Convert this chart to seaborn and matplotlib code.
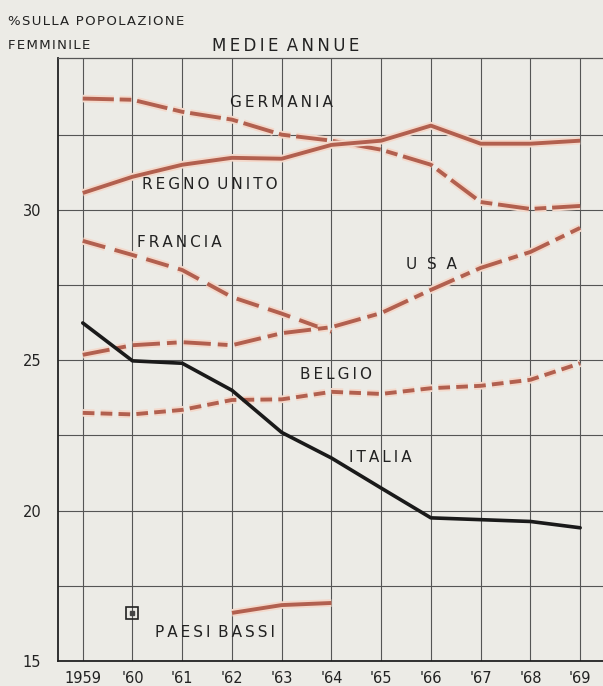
import matplotlib
matplotlib.use("Agg")
import matplotlib.pyplot as plt
import matplotlib.patheffects as pe
import seaborn as sns
import pandas as pd

years = [1959, 1960, 1961, 1962, 1963, 1964, 1965, 1966, 1967, 1968, 1969]
germania = [33.7, 33.66, 33.26, 33.0, 32.5, 32.3, 32.0, 31.5, 30.26, 30.03, 30.13]
regno_unito = [30.56, 31.1, 31.5, 31.73, 31.7, 32.16, 32.3, 32.8, 32.2, 32.2, 32.3]
francia_years = [1959, 1960, 1961, 1962, 1963, 1964]
francia = [28.97, 28.5, 28.0, 27.1, 26.55, 25.95]
usa = [25.18, 25.5, 25.6, 25.5, 25.9, 26.1, 26.57, 27.34, 28.07, 28.6, 29.4]
belgio = [23.25, 23.2, 23.35, 23.68, 23.7, 23.95, 23.88, 24.07, 24.15, 24.35, 24.9]
italia = [26.24, 24.98, 24.9, 24.0, 22.6, 21.75, 20.75, 19.76, 19.7, 19.64, 19.43]
paesi_bassi_years = [1962, 1963, 1964]
paesi_bassi = [16.6, 16.86, 16.93]
xtick_labels = ["1959", "'60", "'61", "'62", "'63", "'64", "'65", "'66", "'67", "'68", "'69"]
ytick_values = [15, 20, 25, 30]

sns.set_style("white")
plt.rcParams["font.family"] = ["DejaVu Sans"]


def spaced(s, gap="\u2009"):
    return gap.join(list(s)).replace(gap + " " + gap, "\u2002")


bg = "#ecebe6"
red = "#b2604f"
halo = [pe.withStroke(linewidth=5.5, foreground="#f4d9cb")]

fig = plt.figure(figsize=(6.03, 6.86), dpi=100, facecolor=bg)
ax = fig.add_axes([0.096, 0.0364, 0.904, 0.8791])
ax.set_facecolor(bg)

series = [
    (years, germania, red, (8, 1.5, 3, 1.5)),
    (years, regno_unito, red, None),
    (francia_years, francia, red, (6, 2.5)),
    (years, usa, red, (7, 1.8, 2.5, 1.8)),
    (years, belgio, red, (3, 1.6)),
    (paesi_bassi_years, paesi_bassi, red, None),
]
for xs, ys, col, dash in series:
    df = pd.DataFrame({"x": xs, "y": ys})
    sns.lineplot(data=df, x="x", y="y", ax=ax, color=col, lw=2.8,
                 path_effects=halo, zorder=3)
    if dash is not None:
        ax.lines[-1].set_dashes(dash)
    ax.lines[-1].set_solid_capstyle("butt")

df_it = pd.DataFrame({"x": years, "y": italia})
sns.lineplot(data=df_it, x="x", y="y", ax=ax, color="#1a1a1a", lw=2.6, zorder=4)

ax.set_xlim(1958.5, 1969.46)
ax.set_ylim(15, 35.05)
ax.set_xticks(years)
ax.set_xticklabels(xtick_labels, fontsize=10.5)
ax.set_yticks(ytick_values)
ax.set_yticks([17.5, 22.5, 27.5, 32.5], minor=True)
ax.set_yticklabels([str(v) for v in ytick_values], fontsize=10.5)
ax.set_xlabel("")
ax.set_ylabel("")
ax.tick_params(axis="x", length=0, pad=7, colors="#222222")
ax.tick_params(axis="y", which="both", length=4, direction="in", pad=12, colors="#222222")
ax.grid(True, which="both", color="#555555", lw=0.8, zorder=1)

for s in ["left", "bottom"]:
    ax.spines[s].set_color("#222222")
    ax.spines[s].set_linewidth(1.3)
ax.spines["top"].set_color("#555555")
ax.spines["top"].set_linewidth(0.9)
ax.spines["right"].set_visible(False)

lab = dict(fontsize=11, color="#222222", ha="center", va="center", zorder=5)
ax.text(1963.0, 33.56, spaced("GERMANIA"), **lab)
ax.text(1961.56, 30.83, spaced("REGNO UNITO"), **lab)
ax.text(1960.95, 28.9, spaced("FRANCIA"), **lab)
ax.text(1966.02, 28.2, "U  S  A", **lab)
ax.text(1964.1, 24.54, spaced("BELGIO"), **lab)
ax.text(1964.98, 21.78, spaced("ITALIA"), **lab)
ax.text(1961.66, 15.96, spaced("PAESI BASSI"), **lab)
ax.plot([1960.0], [16.6], marker="s", ms=9, mfc="none", mec="#222222", mew=1.2, zorder=5)
ax.plot([1960.0], [16.6], marker="s", ms=2.5, mfc="#444444", mec="#444444", zorder=5)

fig.text(0.013, 0.968, spaced("%SULLA POPOLAZIONE", "\u200a"), fontsize=9.5, color="#222222", ha="left", va="center")
fig.text(0.013, 0.934, spaced("FEMMINILE", "\u200a"), fontsize=9.5, color="#222222", ha="left", va="center")
fig.text(0.473, 0.933, spaced("MEDIE ANNUE"), fontsize=12, color="#222222", ha="center", va="center")

fig.savefig("out.png", dpi=100, facecolor=bg)
